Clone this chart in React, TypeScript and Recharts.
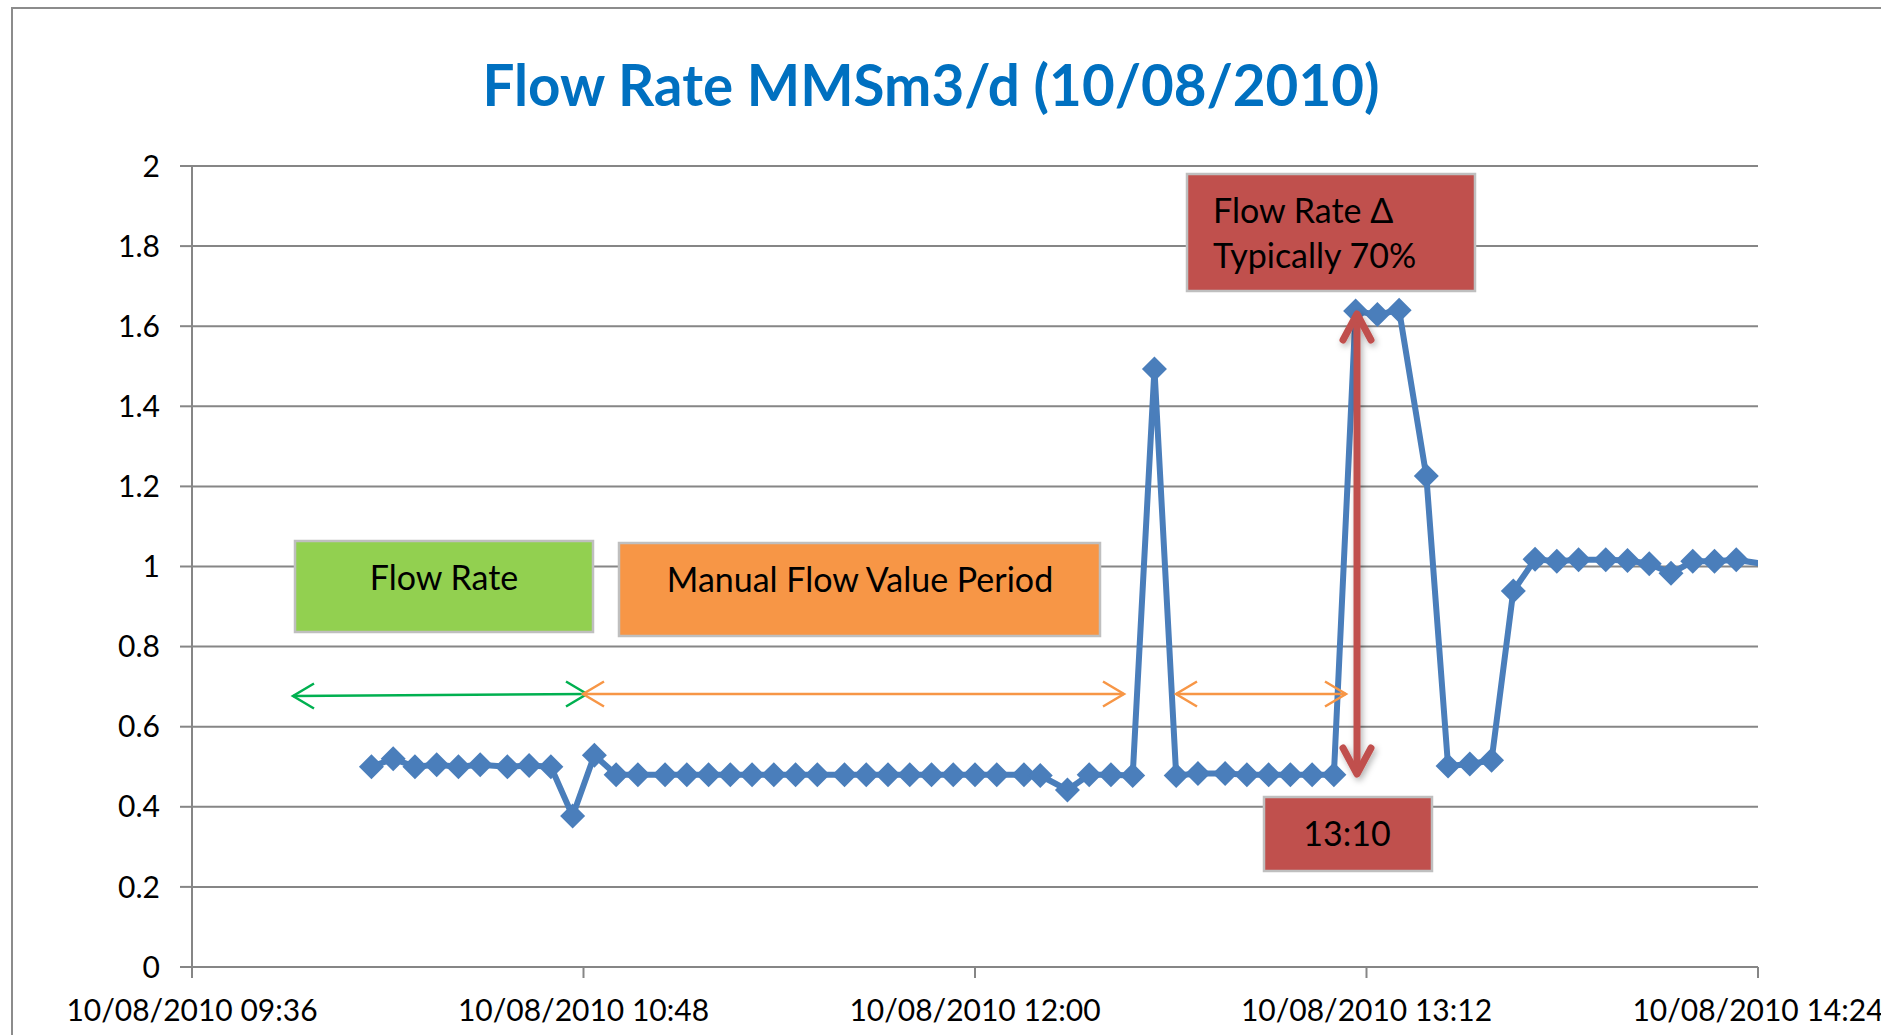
import React from "react";
import { LineChart, Line, XAxis, YAxis, CartesianGrid } from "recharts";

// ---- data (x = minutes since midnight on 10/08/2010) ----
const DATE_LABEL = "10/08/2010";
const timeMinutes = [
  609, 613, 617, 621, 625, 629, 634, 638, 642, 646,
  650, 654, 658, 663, 667, 671, 675, 679, 683, 687,
  691, 696, 700, 704, 708, 712, 716, 720, 724, 729,
  732, 737, 741, 745, 749, 753, 757, 761, 766, 770,
  774, 778, 782, 786, 790, 794, 798, 803, 807, 811,
  815, 819, 823, 827, 831, 836, 840, 844, 848, 852,
  856, 860, 868,
];
const flowRate = [
  0.5, 0.52, 0.5, 0.505, 0.5, 0.505, 0.5, 0.503, 0.5, 0.377,
  0.529, 0.48, 0.48, 0.48, 0.48, 0.48, 0.48, 0.48, 0.48, 0.48,
  0.48, 0.48, 0.48, 0.48, 0.48, 0.48, 0.48, 0.48, 0.48, 0.48,
  0.478, 0.442, 0.48, 0.48, 0.478, 1.493, 0.478, 0.483, 0.483, 0.48,
  0.48, 0.48, 0.48, 0.48, 1.638, 1.629, 1.64, 1.226, 0.502, 0.507,
  0.516, 0.939, 1.018, 1.013, 1.017, 1.017, 1.015, 1.007, 0.983, 1.013,
  1.013, 1.017, 1.0,
];
const xTicks = [576, 648, 720, 792, 864];
const yTicks = [0, 0.2, 0.4, 0.6, 0.8, 1, 1.2, 1.4, 1.6, 1.8, 2];

const data = timeMinutes.map((t, i) => ({ t, v: flowRate[i] }));

const W = 1881;
const H = 1035;
const FONT = "Lato, 'Open Sans', sans-serif";
const GRID = "#868686";
const BLUE = "#4A7EBB";
const RED = "#C0504D";
const BOX_FS = 34;

const fmtTime = (m: number) => {
  const h = Math.floor(m / 60);
  const mm = m % 60;
  return `${DATE_LABEL} ${String(h).padStart(2, "0")}:${String(mm).padStart(2, "0")}`;
};
const fmtY = (v: number) => String(Math.round(v * 10) / 10);

const Diamond = (props: any) => {
  const { cx, cy } = props;
  if (cx == null || cy == null) return null;
  const r = 12.5;
  return (
    <path
      d={`M${cx},${cy - r}L${cx + r},${cy}L${cx},${cy + r}L${cx - r},${cy}Z`}
      fill={BLUE}
    />
  );
};

const hArrow = (x1: number, y1: number, x2: number, y2: number, color: string, key: string) => {
  const a = 21, b = 12.5;
  return (
    <g key={key} stroke={color} strokeWidth={2.5} fill="none">
      <line x1={x1} y1={y1} x2={x2} y2={y2} />
      <path d={`M${x1 + a},${y1 - b}L${x1},${y1}L${x1 + a},${y1 + b}`} />
      <path d={`M${x2 - a},${y2 - b}L${x2},${y2}L${x2 - a},${y2 + b}`} />
    </g>
  );
};

export default function App() {
  return (
    <div style={{ position: "absolute", left: 0, top: 0, width: W, height: H, background: "#fff", overflow: "hidden" }}>
      <LineChart
        width={W}
        height={H}
        data={data}
        margin={{ top: 166, right: 123, bottom: 8, left: 112 }}
      >
        <CartesianGrid vertical={false} stroke={GRID} strokeWidth={2} />
        <XAxis
          dataKey="t"
          type="number"
          domain={[576, 864]}
          ticks={xTicks}
          interval={0}
          allowDataOverflow
          tickFormatter={fmtTime}
          height={60}
          tickSize={11}
          tickMargin={22}
          axisLine={{ stroke: GRID, strokeWidth: 2 }}
          tickLine={{ stroke: GRID, strokeWidth: 2 }}
          tick={{ fill: "#000", fontSize: 30, fontFamily: FONT }}
        />
        <YAxis
          type="number"
          domain={[0, 2]}
          ticks={yTicks}
          interval={0}
          width={80}
          tickFormatter={fmtY}
          tickSize={12}
          tickMargin={20}
          axisLine={{ stroke: GRID, strokeWidth: 2 }}
          tickLine={{ stroke: GRID, strokeWidth: 2 }}
          tick={{ fill: "#000", fontSize: 30, fontFamily: FONT }}
        />
        <Line
          dataKey="v"
          type="linear"
          stroke={BLUE}
          strokeWidth={6}
          dot={(p: any) => <Diamond key={`d${p.index}`} {...p} />}
          activeDot={false}
          isAnimationActive={false}
        />
      </LineChart>

      <svg
        width={W}
        height={H}
        style={{ position: "absolute", left: 0, top: 0, pointerEvents: "none" }}
        fontFamily={FONT}
      >
        <defs>
          <filter id="sh" x="-50%" y="-10%" width="200%" height="120%">
            <feDropShadow dx="2" dy="3" stdDeviation="3" floodColor="#000" floodOpacity="0.3" />
          </filter>
        </defs>
        <path d={`M12,${H}L12,8L${W},8`} stroke="#8c8c8c" strokeWidth={2} fill="none" />
        <text x={931} y={106} textAnchor="middle" fontSize={56.5} fontWeight={700} fill="#0070C0">
          Flow Rate MMSm3/d (10/08/2010)
        </text>

        <rect x={295} y={541} width={298} height={91} fill="#92D050" stroke="#BFBFBF" strokeWidth={2.5} />
        <text x={444} y={590} textAnchor="middle" fontSize={BOX_FS} fill="#000">Flow Rate</text>

        <rect x={619} y={543} width={481} height={93} fill="#F79646" stroke="#BFBFBF" strokeWidth={2.5} />
        <text x={860} y={592} textAnchor="middle" fontSize={BOX_FS} fill="#000">Manual Flow Value Period</text>

        <rect x={1187} y={174} width={288} height={117} fill={RED} stroke="#BFBFBF" strokeWidth={2.5} />
        <text x={1213} y={223} fontSize={BOX_FS} fill="#000">Flow Rate Δ</text>
        <text x={1213} y={268} fontSize={BOX_FS} fill="#000">Typically 70%</text>

        <rect x={1264} y={797} width={168} height={74} fill={RED} stroke="#BFBFBF" strokeWidth={2.5} />
        <text x={1347} y={846} textAnchor="middle" fontSize={BOX_FS} fill="#000">13:10</text>

        {hArrow(293, 696, 587, 694, "#00B050", "g")}
        {hArrow(583, 694, 1124, 694, "#F79646", "o1")}
        {hArrow(1176, 694, 1346, 694, "#F79646", "o2")}

        <g stroke={RED} strokeWidth={7} fill="none" strokeLinecap="round" strokeLinejoin="round" filter="url(#sh)">
          <line x1={1357} y1={316} x2={1357} y2={772} />
          <path d="M1343,340L1357,314L1371,340" />
          <path d="M1343,748L1357,774L1371,748" />
        </g>
      </svg>
    </div>
  );
}
